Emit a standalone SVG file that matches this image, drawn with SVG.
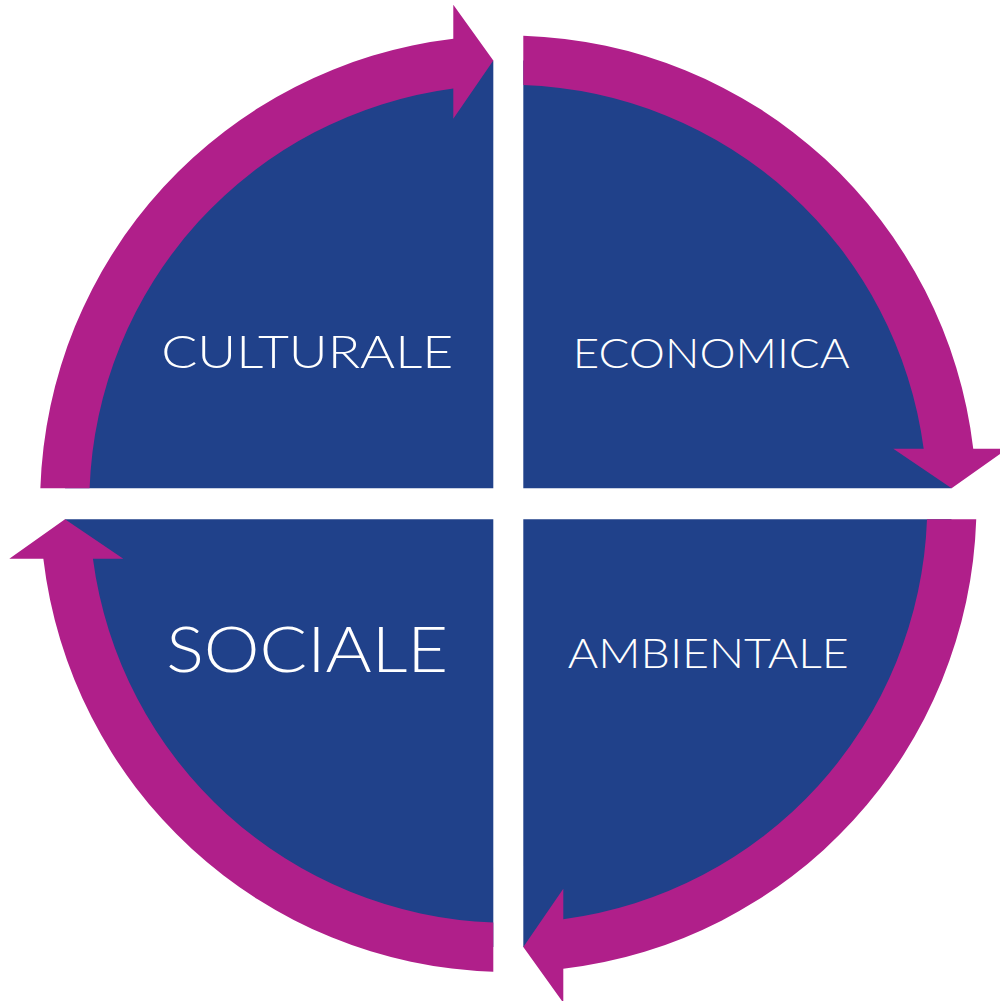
<svg xmlns="http://www.w3.org/2000/svg" width="1000" height="1001" viewBox="0 0 1000 1001">
  <style>
    .quad { fill: #20418A; }
    .arrow { fill: #B01F8A; }
    .label { fill: #FFFFFF; font-family: Lato, "Open Sans", "Liberation Sans", sans-serif; font-weight: 300; text-anchor: middle; }
  </style>
  <rect x="0" y="0" width="1000" height="1001" fill="#FFFFFF"/>
  <g id="culturale">
    <path class="quad" d="M 493.3 488.3 L 65.07 488.3 A 443.5 443.5 0 0 1 493.3 60.55 Z"/>
    <text class="label" x="307.2" y="368.3" font-size="46" textLength="292" lengthAdjust="spacingAndGlyphs">CULTURALE</text>
  </g>
  <g id="economica">
    <path class="quad" d="M 523.3 488.3 L 523.3 60.55 A 443.5 443.5 0 0 1 951.53 488.3 Z"/>
    <text class="label" x="711.2" y="367.7" font-size="41" textLength="277" lengthAdjust="spacingAndGlyphs">ECONOMICA</text>
  </g>
  <g id="ambientale">
    <path class="quad" d="M 523.3 519.3 L 951.53 519.3 A 443.5 443.5 0 0 1 523.3 947.05 Z"/>
    <text class="label" x="708.3" y="667.7" font-size="41" textLength="281" lengthAdjust="spacingAndGlyphs">AMBIENTALE</text>
  </g>
  <g id="sociale">
    <path class="quad" d="M 493.3 519.3 L 493.3 947.05 A 443.5 443.5 0 0 1 65.07 519.3 Z"/>
    <text class="label" x="307.2" y="672.3" font-size="63" textLength="282" lengthAdjust="spacingAndGlyphs">SOCIALE</text>
  </g>
  <g id="connectors">
    <path class="arrow" d="M 40.36 488.3 A 468.2 468.2 0 0 1 453.3 38.84 L 453.3 4.8 L 493.3 60.5 L 453.3 118.8 L 453.3 88.43 A 419 419 0 0 0 89.59 488.3 Z"/>
    <path class="arrow" d="M 523.3 35.84 A 468.2 468.2 0 0 1 973.26 448.8 L 1007.3 448.8 L 951.6 488.3 L 893.3 448.8 L 923.67 448.8 A 419 419 0 0 0 523.3 85.07 Z"/>
    <path class="arrow" d="M 976.24 519.3 A 468.2 468.2 0 0 1 563.3 968.76 L 563.3 1002.8 L 523.3 947.1 L 563.3 888.8 L 563.3 919.17 A 419 419 0 0 0 927.01 519.3 Z"/>
    <path class="arrow" d="M 493.3 971.76 A 468.2 468.2 0 0 1 43.34 558.8 L 9.3 558.8 L 65 519.3 L 123.3 558.8 L 92.93 558.8 A 419 419 0 0 0 493.3 922.53 Z"/>
  </g>
</svg>
